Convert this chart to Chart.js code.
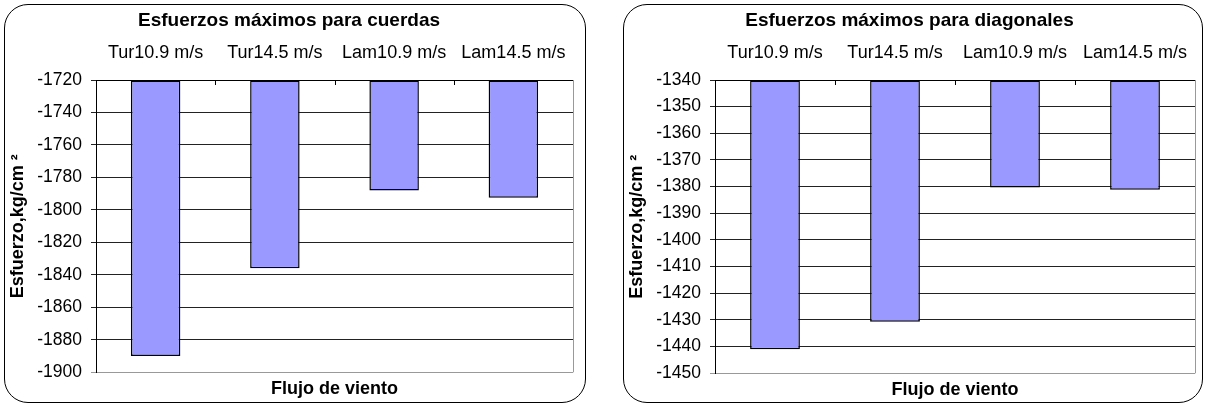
<!DOCTYPE html>
<html>
<head>
<meta charset="utf-8">
<script src="https://cdn.jsdelivr.net/npm/chart.js@4/dist/chart.umd.min.js"></script>
<style>
    body { margin: 0; background: #fff; width: 1206px; height: 406px; position: relative; overflow: hidden; }
    .box { position: absolute; top: 4px; height: 399px; border: 1px solid #000; border-radius: 24px; box-sizing: border-box; }
    canvas { position: absolute; top: 0; left: 0; }
</style>
</head>
<body>
<div class="box" style="left:4px;width:582px;"><canvas id="cuerdas-chart" width="580" height="397"></canvas></div>
<div class="box" style="left:623px;width:580px;"><canvas id="diagonales-chart" width="578" height="397"></canvas></div>
<script>
const categories = ['Tur10.9 m/s', 'Tur14.5 m/s', 'Lam10.9 m/s', 'Lam14.5 m/s'];

const cuerdasValues = [-1890, -1836, -1788, -1792.5];
const cuerdasTicks = { min: -1900, max: -1720, step: 20 };

const diagonalesValues = [-1441, -1430.7, -1380.3, -1381.2];
const diagonalesTicks = { min: -1450, max: -1340, step: 10 };

const FONT = "'Liberation Sans', Arial, sans-serif";

// Excel style: grey right border + small inward ticks under the top axis
const excelFrame = {
    id: 'excelFrame',
    beforeDatasetsDraw(chart) {
        const { ctx, chartArea } = chart;
        const x = chart.scales.x;
        ctx.save();
        ctx.strokeStyle = '#999';
        ctx.lineWidth = 1;
        ctx.beginPath();
        ctx.moveTo(Math.round(chartArea.right) + 0.5, chartArea.top);
        ctx.lineTo(Math.round(chartArea.right) + 0.5, chartArea.bottom);
        ctx.stroke();
        ctx.strokeStyle = '#000';
        ctx.beginPath();
        for (let i = 1; i < categories.length; i++) {
            const px = Math.round((x.getPixelForValue(i - 1) + x.getPixelForValue(i)) / 2) + 0.5;
            ctx.moveTo(px, chartArea.top);
            ctx.lineTo(px, chartArea.top + 5);
        }
        ctx.stroke();
        ctx.restore();
    }
};

const makeChart = (id, title, values, range, pad) => {
    const ctx = document.getElementById(id).getContext('2d');
    return new Chart(ctx, {
        type: 'bar',
        data: {
            labels: categories,
            datasets: [{
                data: values,
                base: range.max,
                backgroundColor: '#9999FF',
                borderColor: '#000',
                borderWidth: 1.5,
                borderSkipped: false,
                categoryPercentage: 1,
                barPercentage: 0.415
            }]
        },
        options: {
            responsive: false,
            animation: false,
            devicePixelRatio: 1,
            layout: { padding: { left: 0, right: pad.right, top: 0, bottom: pad.bottom } },
            plugins: {
                legend: { display: false },
                tooltip: { enabled: false },
                title: {
                    display: true,
                    text: title,
                    color: '#000',
                    font: { family: FONT, size: 19, weight: 'bold' },
                    padding: { top: 4, bottom: 0 }
                },
                subtitle: {
                    display: true,
                    text: 'Flujo de viento',
                    position: 'bottom',
                    fullSize: false,
                    color: '#000',
                    font: { family: FONT, size: 18, weight: 'bold' },
                    padding: { top: 5.6, bottom: 0 }
                }
            },
            scales: {
                x: {
                    position: 'top',
                    offset: true,
                    grid: { display: false },
                    border: { display: true, color: '#000', width: 1 },
                    ticks: {
                        color: '#000',
                        font: { family: FONT, size: 18 },
                        padding: 8,
                        maxRotation: 0
                    },
                    afterFit: s => { s.height = 48.2; }
                },
                y: {
                    min: range.min,
                    max: range.max,
                    grid: {
                        color: c => (c.tick && c.tick.value === range.min) ? '#999' : '#222',
                        tickLength: 5,
                        drawTicks: true
                    },
                    border: { display: true, color: '#000', width: 1 },
                    ticks: {
                        stepSize: range.step,
                        color: '#000',
                        font: { family: FONT, size: 17.5 },
                        padding: 9,
                        callback: v => String(v)
                    },
                    title: {
                        display: true,
                        text: 'Esfuerzo,kg/cm ²',
                        color: '#000',
                        font: { family: FONT, size: 18, weight: 'bold' },
                        padding: { top: 2.7, bottom: 0 }
                    },
                    afterFit: s => { s.width = 91; }
                }
            }
        },
        plugins: [excelFrame]
    });
};

makeChart('cuerdas-chart', 'Esfuerzos máximos para cuerdas', cuerdasValues, cuerdasTicks, { right: 12, bottom: 2.5 });
makeChart('diagonales-chart', 'Esfuerzos máximos para diagonales', diagonalesValues, diagonalesTicks, { right: 7, bottom: 1.5 });
</script>
</body>
</html>
